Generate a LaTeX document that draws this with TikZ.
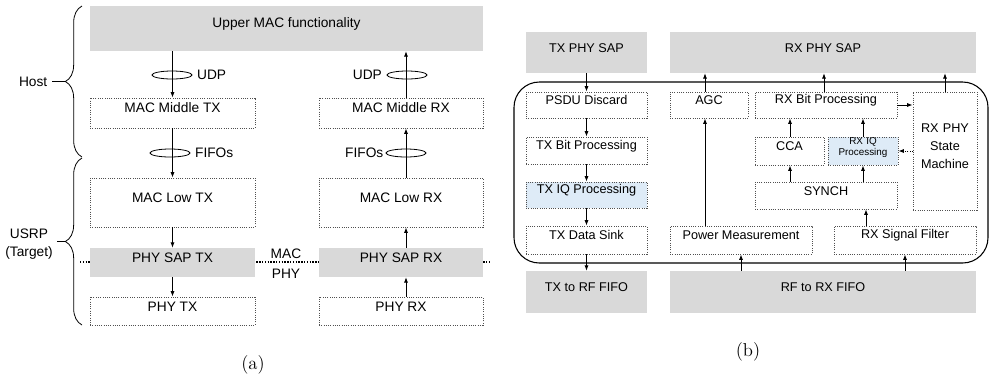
\documentclass[tikz,border=0pt]{standalone}
\usepackage{fontspec}
\newfontfamily\arial{Liberation Sans}
\usetikzlibrary{arrows.meta,decorations.pathreplacing,fit,shapes.geometric}
\definecolor{sapgray}{RGB}{217,217,217}
\definecolor{iqblue}{RGB}{222,235,247}
\definecolor{dotc}{RGB}{80,80,80}
\begin{document}
\begin{tikzpicture}[x=0.75pt,y=-0.75pt,
  fa/.style={font=\arial\fontsize{10.3}{14}\selectfont},
  fb/.style={font=\arial\fontsize{9.5}{13.5}\selectfont},
  fs/.style={font=\arial\fontsize{7.4}{8.5}\selectfont},
  sap/.style={fill=sapgray, inner sep=0pt},
  blk/.style={draw=dotc, densely dotted, line width=0.7pt, inner sep=0pt},
  iq/.style={blk, fill=iqblue},
  arr/.style={-{Latex[length=4pt,width=3pt]}, line width=0.6pt},
  ell/.style={draw, ellipse, minimum width=30pt, minimum height=6pt, inner sep=0pt, line width=0.6pt},
  brc/.style={decorate, decoration={brace, amplitude=12.5pt}, line width=0.6pt},
  captext/.style={font=\fontsize{14}{16}\selectfont},
  ]
\useasboundingbox (0,0) rectangle (990,380);
\fill[white] (0,0) rectangle (990,380);

% ---------------- panel (a) ----------------
\coordinate (dl) at (80,262);
\coordinate (dr) at (490,262);
\draw[densely dotted, line width=1.1pt] (dl) -- (dr);

\node[sap,fa,fit={(90,6)(483,51)}] (upper) {Upper MAC functionality};
\node[blk,fa,fit={(90,98)(255,128)}] (mmtx) {MAC Middle TX};
\node[blk,fa,fit={(319,98)(483,128)}] (mmrx) {MAC Middle RX};
\node[blk,fa,fit={(90,178)(255,227)}] (mltx) {MAC Low TX};
\node[blk,fa,fit={(319,178)(483,227)}] (mlrx) {MAC Low RX};
\node[sap,fa,fit={(90,248)(255,277)}] (saptx) {PHY SAP TX};
\node[sap,fa,fit={(319,248)(483,277)}] (saprx) {PHY SAP RX};
\node[blk,fa,fit={(90,297)(255,325)}] (phytx) {PHY TX};
\node[blk,fa,fit={(319,297)(483,325)}] (phyrx) {PHY RX};

\coordinate (rxa) at (406,0);
\draw[arr] (upper.south -| mmtx) -- (mmtx.north);
\draw[arr] (mmtx.south) -- (mltx.north);
\draw[arr] (mltx.south) -- (saptx.north);
\draw[arr] (saptx.south) -- (phytx.north);
\draw[arr] (mmrx.north -| rxa) -- (upper.south -| rxa);
\draw[arr] (mlrx.north -| rxa) -- (mmrx.south -| rxa);
\draw[arr] (saprx.north -| rxa) -- (mlrx.south -| rxa);
\draw[arr] (phyrx.north -| rxa) -- (saprx.south -| rxa);

\node[ell] (e1) at (172,75) {};
\node[fa, anchor=west] at (e1.east) {UDP};
\node[ell] (e2) at (407,75) {};
\node[fa, anchor=east] at (e2.west) {UDP};
\node[ell] (e3) at (170,153) {};
\node[fa, anchor=west] at (e3.east) {FIFOs};
\node[ell] (e4) at (406,153) {};
\node[fa, anchor=east, inner sep=1.5pt] at (e4.west) {FIFOs};

\node[fa] (mac) at (286,254) {MAC};
\node[fa] (phy) at (286,274) {PHY};

\coordinate (hb) at (82,157);
\coordinate (ht) at (82,6);
\draw[brc] (hb) -- (ht);
\coordinate (htip) at (65,81.5);
\node[fa, anchor=east] (host) at (52,81.5) {Host};
\draw[line width=1pt] (host.east) -- (htip);

\coordinate (ub) at (82,325);
\coordinate (ut) at (82,158);
\draw[brc] (ub) -- (ut);
\coordinate (utip) at (65,241.5);
\node[fa, align=center] (usrp) at (29,244) {USRP\\(Target)};
\draw[line width=1pt] (utip -| usrp.east) -- (utip);

\node[captext] (capa) at (253,365) {(a)};

% ---------------- panel (b) ----------------
\node[draw, rounded corners=19pt, line width=0.8pt, inner sep=0pt, fit={(514,82)(988,263)}] (frame) {};

\node[sap,fb,fit={(526,32)(647,73)}] (txsap) {TX PHY SAP};
\node[sap,fb,fit={(670,32)(976,73)}] (rxsap) {RX PHY SAP};
\node[blk,fb,fit={(526,92)(647,118)}] (psdu) {PSDU Discard};
\node[blk,fb,fit={(526,137)(647,164)}] (txbit) {TX Bit Processing};
\node[iq,fb,fit={(526,182)(647,208)}] (txiq) {TX IQ Processing};
\node[blk,fb,fit={(526,226)(647,254)}] (txsink) {TX Data Sink};
\node[sap,fb,fit={(526,271)(647,313)}] (txrf) {TX to RF FIFO};
\node[sap,fb,fit={(670,271)(976,313)}] (rfrx) {RF to RX FIFO};
\node[blk,fb,fit={(670,92)(748,118)}] (agc) {AGC};
\node[blk,fb,fit={(755,92)(897,118)}] (rxbit) {RX Bit Processing};
\node[blk,fb,fit={(913,92)(977,210)}, align=center] (fsm) {RX PHY\\State\\Machine};
\node[blk,fb,fit={(755,137)(824,165)}] (cca) {CCA};
\node[iq,fs,fit={(828,137)(898,165)}, align=center] (rxiq) {RX IQ\\Processing};
\node[blk,fb,fit={(755,182)(897,209)}] (synch) {SYNCH};
\node[blk,fb,fit={(670,226)(812,254)}] (pm) {Power Measurement};
\node[blk,fb,fit={(834,226)(976,254)}] (rsf) {RX Signal Filter};

\draw[arr] (txsap.south) -- (psdu.north);
\draw[arr] (psdu.south) -- (txbit.north);
\draw[arr] (txbit.south) -- (txiq.north);
\draw[arr] (txiq.south) -- (txsink.north);
\draw[arr] (txsink.south) -- (txrf.north);

\coordinate (ax) at (705,0);
\coordinate (bx) at (824,0);
\coordinate (cx) at (790,0);
\coordinate (ix) at (863,0);
\coordinate (sx) at (866,0);
\draw[arr] (agc.north -| ax) -- (rxsap.south -| ax);
\draw[arr] (pm.north -| ax) -- (agc.south -| ax);
\draw[arr] (rxbit.north -| bx) -- (rxsap.south -| bx);
\draw[arr] (fsm.north) -- (rxsap.south -| fsm);
\draw[arr] (rxbit.east) -- (rxbit.east -| fsm.west);
\draw[arr] (cca.north -| cx) -- (rxbit.south -| cx);
\draw[arr] (rxiq.north -| ix) -- (rxbit.south -| ix);
\draw[arr] (synch.north -| cx) -- (cca.south -| cx);
\draw[arr] (synch.north -| ix) -- (rxiq.south -| ix);
\draw[arr] (rsf.north -| sx) -- (synch.south -| sx);
\draw[arr, densely dotted] (rxiq.east -| fsm.west) -- (rxiq.east);
\draw[arr] (rfrx.north -| pm) -- (pm.south);
\draw[arr] (rfrx.north -| rsf) -- (rsf.south);

\node[captext] (capb) at (748,352) {(b)};
\end{tikzpicture}
\end{document}
